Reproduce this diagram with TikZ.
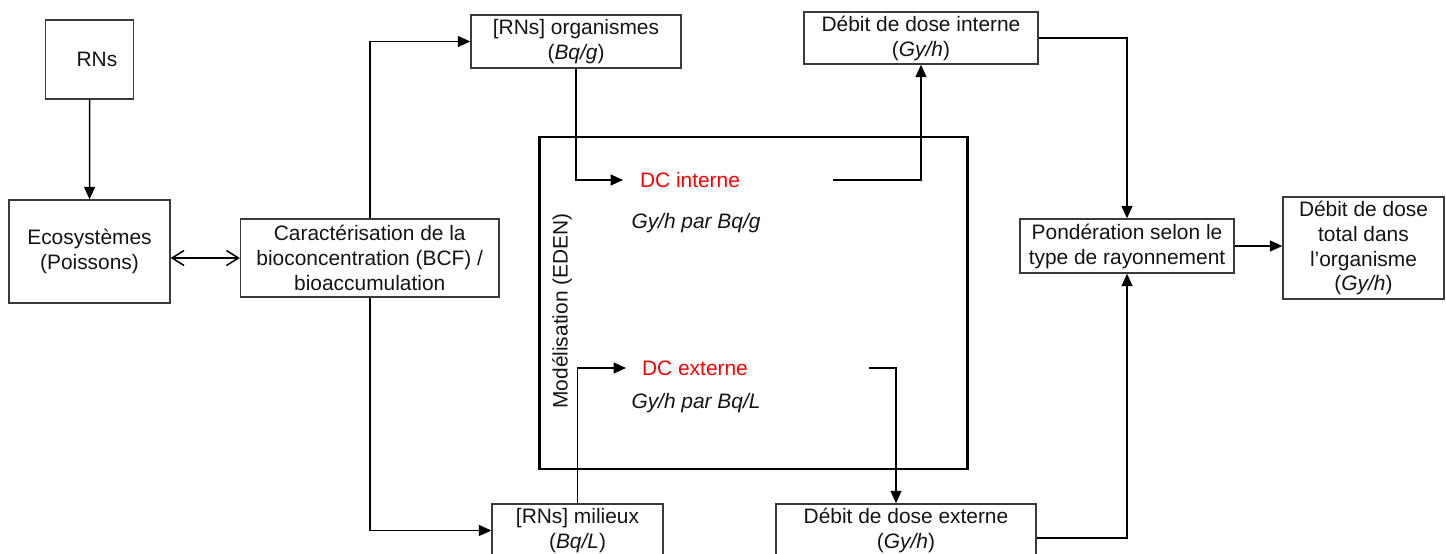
\documentclass[tikz,border=0pt]{standalone}
\usepackage{fontspec}
\setmainfont{Liberation Sans}
\usetikzlibrary{arrows.meta,calc}
\definecolor{boxline}{HTML}{3A3A3A}
\definecolor{txt}{HTML}{141414}
\definecolor{dcred}{HTML}{FF0000}
\tikzset{
  box/.style={draw=boxline,line width=0.8pt,inner sep=0pt,align=center,text=txt,
    font=\fontsize{11.9}{14.2}\selectfont},
  lbl/.style={inner sep=0pt,font=\fontsize{11.9}{14.2}\selectfont,text=txt},
  arr/.style={line width=0.85pt,-{Triangle[length=0.25cm,width=0.22cm]}},
  dbl/.style={line width=0.85pt,{Straight Barb[length=0.24cm,width=0.3cm]}-{Straight Barb[length=0.24cm,width=0.3cm]}},
  ln/.style={line width=0.85pt}
}
\begin{document}
\begin{tikzpicture}[x=0.02cm,y=-0.02cm]
\useasboundingbox[fill=white] (0,0) rectangle (1446,554);
% boxes
\node[box,minimum width=1.76cm,minimum height=1.58cm] (rns) at (89.7,59.5) {\hspace*{0.29cm}RNs};
\node[box,minimum width=3.22cm,minimum height=2.06cm] (eco) at (89.5,251.5) {Ecosystèmes\\(Poissons)};
\node[box,minimum width=5.17cm,minimum height=1.56cm] (car) at (369.75,258) {Caractérisation de la\\bioconcentration (BCF) /\\bioaccumulation};
\node[box,minimum width=4.2cm,minimum height=1.06cm] (org) at (576,41.5) {[RNs] organismes\\(\textit{Bq/g})};
\node[box,minimum width=4.68cm,minimum height=1.04cm] (debint) at (921,38) {Débit de dose interne\\(\textit{Gy/h})};
\node[box,minimum width=3.42cm,minimum height=1.06cm] (mil) at (577.5,530.5) {[RNs] milieux\\(\textit{Bq/L})};
\node[box,minimum width=5.2cm,minimum height=1.06cm] (debext) at (906,530.5) {Débit de dose externe\\(\textit{Gy/h})};
\node[box,minimum width=4.28cm,minimum height=1.08cm] (pond) at (1127,246) {Pondération selon le\\type de rayonnement};
\node[box,minimum width=3.22cm,minimum height=2.04cm] (total) at (1363.5,248) {Débit de dose\\total dans\\l’organisme\\(\textit{Gy/h})};
% EDEN frame
\draw[line width=1.7pt] (539,137) rectangle (967,469);
\node[lbl,rotate=90] (eden) at (562,311) {Modélisation (EDEN)};
\node[lbl,text=dcred] (dci) at (690,180) {DC interne};
\node[lbl] (dciu) at (696,223) {\textit{Gy/h par Bq/g}};
\node[lbl,text=dcred] (dce) at (695,368) {DC externe};
\node[lbl] (dceu) at (696,403) {\textit{Gy/h par Bq/L}};
\coordinate (dciin) at (623,180);
\coordinate (dciout) at (833,180);
\coordinate (dcein) at (626,368);
\coordinate (dceout) at (869,368);
% connectors
\draw[arr] (rns) -- (eco);
\draw[dbl] (car.west -| eco.east) -- (car.west);
\draw[arr] (car.north) |- (org.west);
\draw[arr] (car.south) |- (mil.west);
\draw[arr] (org.south) |- (dciin);
\draw[arr] (dciout) -| (debint.south);
\draw[arr] (mil.north) |- (dcein);
\draw[arr] (dceout) -| ([xshift=-0.2cm]debext.north);
\draw[arr] (debint.east) -| (pond.north);
\draw[arr] ([yshift=-0.15cm]debext.east) -| (pond.south);
\draw[arr] (pond.east) -- (pond.east -| total.west);
\end{tikzpicture}
\end{document}
